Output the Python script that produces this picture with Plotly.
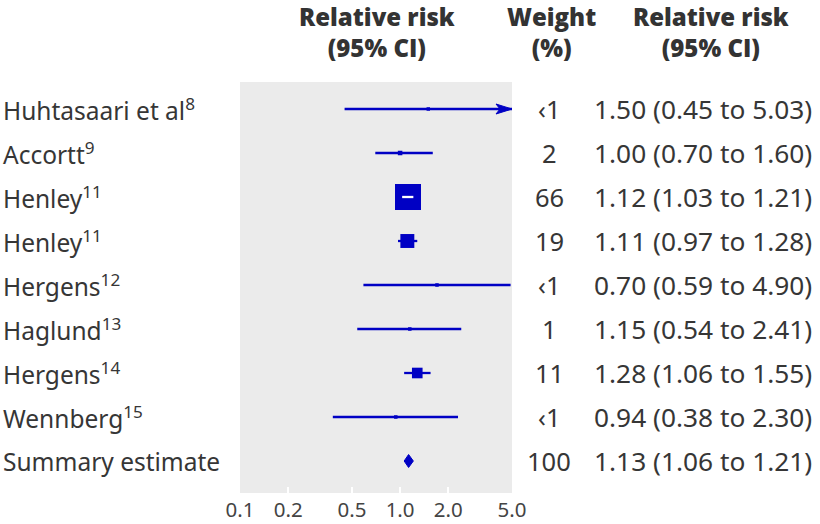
import numpy as np
import plotly.graph_objects as go

# ---------------- data ----------------
studies = ["Huhtasaari et al", "Accortt", "Henley", "Henley", "Hergens",
           "Haglund", "Hergens", "Wennberg", "Summary estimate"]
refs = ["8", "9", "11", "11", "12", "13", "14", "15", ""]
rr_plot = [1.50, 1.00, 1.12, 1.11, 1.70, 1.15, 1.28, 0.94, 1.13]
ci_low = [0.45, 0.70, 1.03, 0.97, 0.59, 0.54, 1.06, 0.38, 1.06]
ci_high = [5.03, 1.60, 1.21, 1.28, 4.90, 2.41, 1.55, 2.30, 1.21]
weights = [0.5, 2, 66, 19, 0.5, 1, 11, 0.5, 100]
rr_text = ["1.50 (0.45 to 5.03)", "1.00 (0.70 to 1.60)", "1.12 (1.03 to 1.21)",
           "1.11 (0.97 to 1.28)", "0.70 (0.59 to 4.90)", "1.15 (0.54 to 2.41)",
           "1.28 (1.06 to 1.55)", "0.94 (0.38 to 2.30)", "1.13 (1.06 to 1.21)"]
is_summary = [False] * 8 + [True]
x_ticks = [0.1, 0.2, 0.5, 1.0, 2.0, 5.0]
x_tick_labels = ["0.1", "0.2", "0.5", "1.0", "2.0", "5.0"]
headers = ["Relative risk<br>(95% CI)", "Weight<br>(%)", "Relative risk<br>(95% CI)"]

# ---------------- styling / layout ----------------
W, H = 820, 524
ML, MR, MT, MB = 240, 308, 82, 31
plot_w = W - ML - MR
plot_h = H - MT - MB
xmin, xmax = 0.1, 5.0
ppd = plot_w / (np.log10(xmax) - np.log10(xmin))  # px per decade
row_px = 44.0
ytop, ybot = -27 / row_px, 8 + 32 / row_px

BLUE = "#0000c4"
TXT = "#363636"
BODY_FONT = "Noto Sans"

def px_to_paper_x(px):
    return (px - ML) / plot_w

def px_to_paper_y(py):
    return 1 - (py - MT) / plot_h

fig = go.Figure()

# CI lines (clipped to axis range)
lx, ly = [], []
for i in range(len(studies)):
    if is_summary[i]:
        continue
    lx += [max(ci_low[i], xmin), min(ci_high[i], xmax), None]
    ly += [i, i, None]
fig.add_trace(go.Scatter(x=lx, y=ly, mode="lines",
                         line=dict(color=BLUE, width=2.3),
                         hoverinfo="skip", showlegend=False))

# arrowheads for CIs beyond range
for i in range(len(studies)):
    if ci_high[i] > xmax and not is_summary[i]:
        back = xmax / 10 ** (16 / ppd)
        notch = xmax / 10 ** (12 / ppd)
        hh = 5 / row_px
        fig.add_trace(go.Scatter(x=[xmax, back, notch, back, xmax],
                                 y=[i, i - hh, i, i + hh, i],
                                 mode="lines", fill="toself", fillcolor=BLUE,
                                 line=dict(color=BLUE, width=1),
                                 hoverinfo="skip", showlegend=False))

# square markers sized by weight
idx = [i for i in range(len(studies)) if not is_summary[i]]
sizes = [max(3.5, 3.2 * np.sqrt(weights[i])) for i in idx]
fig.add_trace(go.Scatter(x=[rr_plot[i] for i in idx], y=idx, mode="markers",
                         marker=dict(symbol="square", size=sizes, color=BLUE,
                                     opacity=1, line=dict(width=0)),
                         opacity=1, hoverinfo="skip", showlegend=False))

# white CI segment where the CI lies within the box
for k, i in enumerate(idx):
    half = sizes[k] / 2
    lo_px = (np.log10(rr_plot[i]) - np.log10(ci_low[i])) * ppd
    hi_px = (np.log10(ci_high[i]) - np.log10(rr_plot[i])) * ppd
    if lo_px < half and hi_px < half:
        fig.add_trace(go.Scatter(x=[ci_low[i], ci_high[i]], y=[i, i], mode="lines",
                                 line=dict(color="white", width=2.3),
                                 hoverinfo="skip", showlegend=False))

# summary diamond
for i in range(len(studies)):
    if is_summary[i]:
        dh = 6.5 / row_px
        fig.add_trace(go.Scatter(x=[ci_low[i], rr_plot[i], ci_high[i], rr_plot[i], ci_low[i]],
                                 y=[i, i - dh, i, i + dh, i], mode="lines",
                                 fill="toself", fillcolor=BLUE,
                                 line=dict(color=BLUE, width=1),
                                 hoverinfo="skip", showlegend=False))

# line of no effect
fig.add_shape(type="line", xref="x", yref="paper", x0=np.log10(1.0), x1=np.log10(1.0),
              y0=0, y1=1, line=dict(color="#2020c0", width=1.4), layer="below")

annotations = []
for i in range(len(studies)):
    label = studies[i] + (f"<sup>{refs[i]}</sup>" if refs[i] else "")
    annotations.append(dict(text=label, xref="paper", yref="y",
                            x=px_to_paper_x(1), y=i, xanchor="left", yanchor="middle",
                            showarrow=False, font=dict(family=BODY_FONT, size=24.5, color=TXT)))
    w = weights[i]
    wtxt = "‹1" if w < 1 else str(int(w))
    annotations.append(dict(text=wtxt, xref="paper", yref="y",
                            x=px_to_paper_x(549), y=i, xanchor="center", yanchor="middle",
                            showarrow=False, font=dict(family=BODY_FONT, size=25.5, color=TXT)))
    annotations.append(dict(text=rr_text[i], xref="paper", yref="y",
                            x=px_to_paper_x(592), y=i, xanchor="left", yanchor="middle",
                            showarrow=False, font=dict(family=BODY_FONT, size=26.3, color=TXT)))

header_x = [377, 551, 711]
for hx, ht in zip(header_x, headers):
    annotations.append(dict(text=ht, xref="paper", yref="paper",
                            x=px_to_paper_x(hx), y=px_to_paper_y(32),
                            xanchor="center", yanchor="middle", showarrow=False,
                            font=dict(family="Open Sans", size=24, weight=800, color="#333333")))

fig.update_layout(
    width=W, height=H,
    margin=dict(l=ML, r=MR, t=MT, b=MB, pad=0, autoexpand=False),
    paper_bgcolor="white", plot_bgcolor="#ebebeb",
    annotations=annotations,
    xaxis=dict(type="log", range=[np.log10(xmin), np.log10(xmax)],
               tickvals=x_ticks, ticktext=x_tick_labels,
               ticks="inside", ticklen=6, tickwidth=2, tickcolor="white",
               ticklabelstandoff=2, automargin=False,
               showgrid=False, zeroline=False, showline=False,
               tickfont=dict(family=BODY_FONT, size=20.5, color="#444444"),
               fixedrange=True),
    yaxis=dict(range=[ybot, ytop], visible=False, fixedrange=True, automargin=False),
    showlegend=False,
)

fig.write_html("out.html", config={"displayModeBar": False},
               post_script="document.body.style.margin='0';document.body.style.overflow='hidden';")
